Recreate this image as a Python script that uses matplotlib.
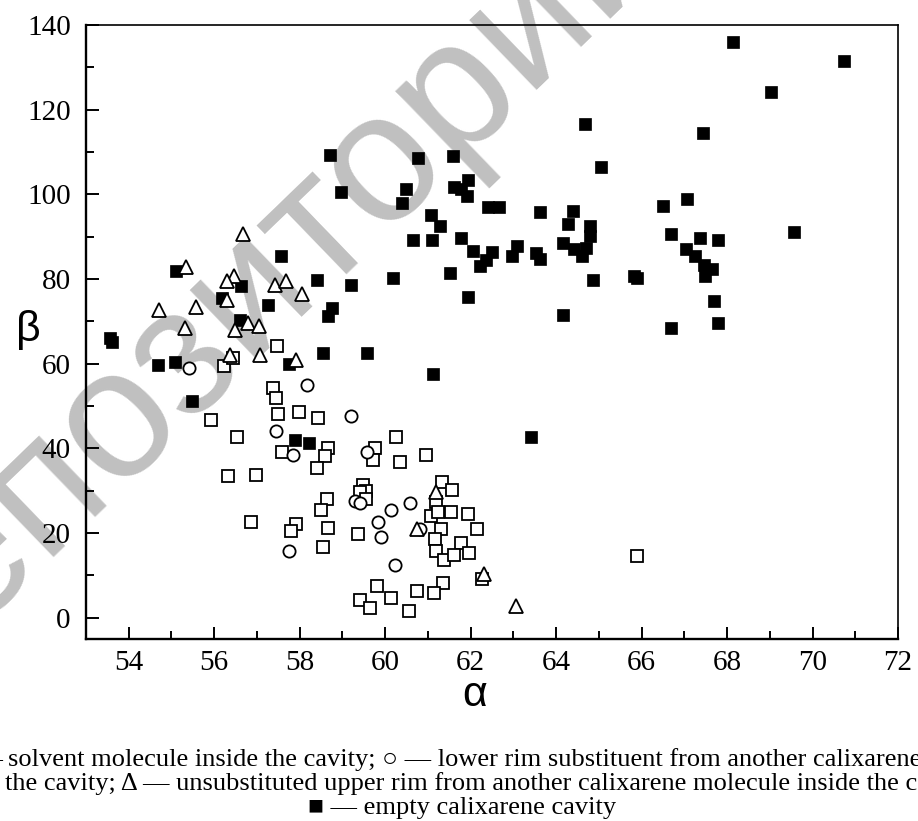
import matplotlib
matplotlib.use("Agg")
import matplotlib.pyplot as plt
from matplotlib.ticker import MultipleLocator

# empty calixarene cavity (filled squares)
empty_a = [68.15, 70.74, 69.03, 67.44, 67.07, 69.56, 67.37, 67.79, 67.03, 67.26,
           67.45, 67.65, 67.48, 67.70, 67.80, 64.67, 65.06, 66.51, 64.40, 64.28,
           64.79, 64.80, 64.16, 64.42, 64.69, 64.61, 66.68, 64.87, 65.83, 65.90,
           64.16, 66.69, 60.77, 61.59, 60.48, 61.94, 61.61, 61.77, 61.92, 60.39,
           62.40, 62.66, 63.62, 61.08, 61.28, 60.64, 61.09, 61.78, 62.06, 62.50,
           62.37, 62.21, 63.09, 62.97, 63.52, 63.62, 60.19, 61.52, 61.95, 63.41,
           58.70, 58.97, 57.57, 55.10, 58.40, 59.20, 56.63, 56.18, 57.25, 58.76,
           58.66, 56.61, 53.55, 53.60, 54.68, 55.09, 57.76, 58.55, 59.58, 55.48,
           57.90, 58.22, 61.12]
empty_b = [135.9, 131.4, 124.1, 114.6, 98.8, 91.2, 89.6, 89.3, 87.0, 85.4,
           83.4, 82.4, 80.8, 74.9, 69.7, 116.6, 106.4, 97.3, 96.1, 92.9,
           92.5, 90.1, 88.5, 87.0, 87.4, 85.4, 90.7, 79.8, 80.8, 80.3,
           71.6, 68.5, 108.7, 109.1, 101.3, 103.5, 101.7, 101.3, 99.7, 98.0,
           97.0, 97.0, 95.9, 95.2, 92.5, 89.3, 89.3, 89.6, 86.7, 86.5,
           84.6, 83.0, 87.9, 85.4, 86.2, 84.8, 80.2, 81.4, 75.7, 42.6,
           109.2, 100.6, 85.4, 81.9, 79.7, 78.7, 78.3, 75.6, 73.8, 73.1,
           71.3, 70.3, 66.0, 65.1, 59.6, 60.3, 59.9, 62.6, 62.6, 51.2,
           42.0, 41.3, 57.6]

# solvent molecule inside the cavity (open squares)
solvent_a = [57.48, 56.22, 56.45, 57.37, 57.45, 57.49, 57.98, 58.43, 55.92, 56.53,
             58.66, 58.59, 58.40, 57.58, 56.32, 56.97, 59.76, 59.71, 59.48, 59.54,
             59.42, 59.56, 58.64, 58.50, 56.85, 58.66, 57.92, 57.80, 59.36, 58.54,
             59.81, 59.42, 59.64, 60.26, 60.34, 60.13, 60.95, 61.34, 61.57, 61.20,
             61.08, 61.23, 61.53, 61.95, 62.16, 61.31, 61.16, 61.77, 61.96, 61.19,
             61.37, 61.62, 62.26, 60.75, 61.36, 61.14, 60.55, 65.89]
solvent_b = [64.3, 59.5, 61.3, 54.2, 52.0, 48.2, 48.5, 47.3, 46.6, 42.8,
             40.2, 38.1, 35.3, 39.2, 33.4, 33.7, 40.1, 37.2, 31.3, 30.0,
             29.8, 28.0, 28.0, 25.5, 22.7, 21.1, 22.1, 20.4, 19.8, 16.7,
             7.5, 4.3, 2.3, 42.6, 36.9, 4.6, 38.4, 32.0, 30.2, 27.4,
             24.1, 24.9, 24.9, 24.5, 21.0, 20.9, 18.6, 17.7, 15.3, 15.7,
             13.6, 14.9, 9.2, 6.4, 8.2, 5.9, 1.6, 14.7]

# lower rim substituent (open circles)
lower_a = [55.41, 58.16, 59.19, 57.45, 57.84, 59.58, 59.29, 59.41, 59.83, 59.90,
           57.76, 60.14, 60.23, 60.59, 60.81]
lower_b = [58.9, 54.9, 47.6, 44.0, 38.4, 39.1, 27.5, 27.1, 22.7, 19.2,
           15.7, 25.5, 12.5, 27.1, 21.0]

# unsubstituted upper rim (open triangles)
upper_a = [56.68, 55.33, 56.46, 56.29, 57.42, 57.69, 58.05, 56.30, 54.70, 55.58,
           55.32, 56.48, 56.78, 57.04, 56.38, 57.08, 57.91, 61.20, 60.75, 62.31,
           63.05]
upper_b = [90.7, 82.8, 80.8, 79.5, 78.6, 79.5, 76.4, 75.0, 72.8, 73.5,
           68.5, 67.9, 69.7, 68.8, 62.0, 62.0, 60.9, 29.8, 21.0, 10.4,
           2.8]

serif = ['Liberation Serif', 'DejaVu Serif']

fig = plt.figure(figsize=(9.18, 8.21), dpi=100)
ax = fig.add_axes([0.0937, 0.2217, 0.8845, 0.7479])
ax.patch.set_alpha(0)

# watermark behind everything
fig.text(0.272, 0.650, 'репозиторий', rotation=44, rotation_mode='anchor',
         ha='center', va='center', fontsize=132,
         family='Liberation Sans', color='#c0c0c0', zorder=-1)

ax.plot(empty_a, empty_b, 's', ms=8.6, mfc='black', mec='black', mew=0.5, zorder=3)
ax.plot(solvent_a, solvent_b, 's', ms=8, mfc='white', mec='black', mew=1.3, zorder=4)
ax.plot(lower_a, lower_b, 'o', ms=8.8, mfc='white', mec='black', mew=1.3, zorder=5)
ax.plot(upper_a, upper_b, '^', ms=10, mfc='white', mec='black', mew=1.3, zorder=6)

ax.set_xlim(53, 72)
ax.set_ylim(-5, 140)
ax.xaxis.set_major_locator(MultipleLocator(2))
ax.xaxis.set_minor_locator(MultipleLocator(1))
ax.yaxis.set_major_locator(MultipleLocator(20))
ax.yaxis.set_minor_locator(MultipleLocator(10))
ax.tick_params(which='both', direction='in', top=False, right=False, width=1.4)
ax.tick_params(which='major', length=9, labelsize=21)
ax.tick_params(axis='y', which='major', pad=11)
ax.tick_params(axis='x', which='major', pad=8)
ax.tick_params(which='minor', length=5.5)
for lab in ax.get_xticklabels() + ax.get_yticklabels():
    lab.set_family(serif)
for side in ['left', 'bottom']:
    ax.spines[side].set_linewidth(1.7)
for side in ['top', 'right']:
    ax.spines[side].set_linewidth(1.2)

ax.set_xlabel('α', fontsize=31, family='Liberation Sans')
ax.xaxis.set_label_coords(0.478, -0.058)
ax.set_ylabel('β', fontsize=31, family='Liberation Sans', rotation=0, va='center', ha='center')
ax.yaxis.set_label_coords(-0.071, 0.503)

# caption
fig.text(3 / 918, 1 - 760 / 821, '□ —', ha='right', va='center', fontsize=19, family=serif)
fig.text(8 / 918, 1 - 760 / 821,
         'solvent molecule inside the cavity; ○ — lower rim substituent from another calixarene molecule inside',
         ha='left', va='center', fontsize=19, family=serif)
fig.text(5 / 918, 1 - 784 / 821,
         'the cavity; Δ — unsubstituted upper rim from another calixarene molecule inside the cavity;',
         ha='left', va='center', fontsize=19, family=serif)
fig.text(462 / 918, 1 - 808 / 821, '■ — empty calixarene cavity',
         ha='center', va='center', fontsize=19, family=serif)

fig.savefig('out.png', dpi=100)
